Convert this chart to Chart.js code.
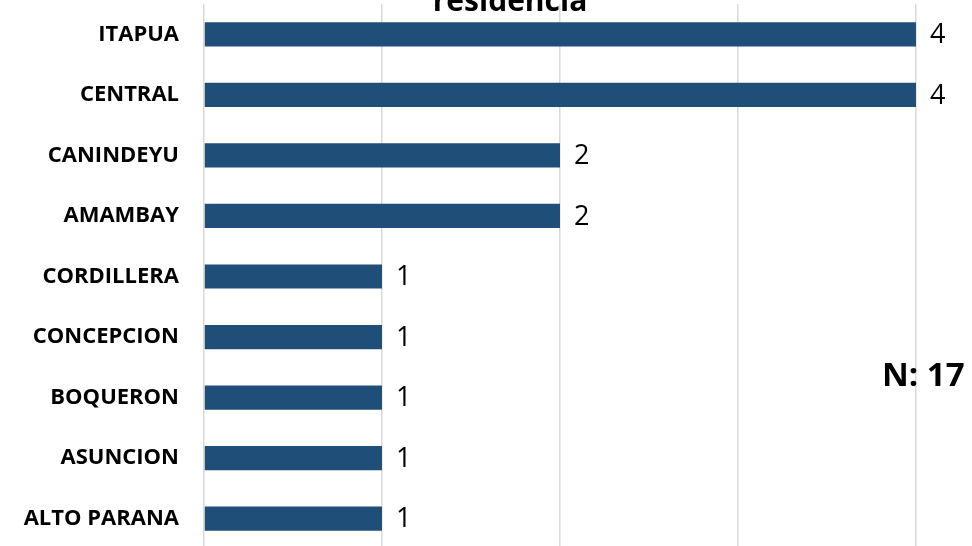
<!DOCTYPE html>
<html>
<head>
<meta charset="utf-8">
<script src="https://cdn.jsdelivr.net/npm/chart.js@4/dist/chart.umd.min.js"></script>
<style>
  html, body { margin: 0; padding: 0; background: #ffffff; overflow: hidden; }
  #wrap { position: relative; width: 972px; height: 550px; }
</style>
</head>
<body>
<div id="wrap"><canvas id="c" width="972" height="550"></canvas></div>
<script>
const categories = ["ITAPUA", "CENTRAL", "CANINDEYU", "AMAMBAY", "CORDILLERA", "CONCEPCION", "BOQUERON", "ASUNCION", "ALTO PARANA"];
const values = [4, 4, 2, 2, 1, 1, 1, 1, 1];
const titleText = "residencia";
const noteText = "N: 17";

const barLabels = {
  id: "barLabels",
  afterDatasetsDraw(chart) {
    const ctx = chart.ctx;
    const meta = chart.getDatasetMeta(0);
    ctx.save();
    ctx.font = "27px 'Open Sans'";
    ctx.fillStyle = "#000000";
    ctx.textAlign = "left";
    ctx.textBaseline = "middle";
    meta.data.forEach((el, i) => {
      ctx.fillText(String(values[i]), el.x + 14, el.y + 1);
    });
    ctx.restore();
  }
};

const extraText = {
  id: "extraText",
  afterDraw(chart) {
    const ctx = chart.ctx;
    ctx.save();
    ctx.fillStyle = "#000000";
    ctx.textBaseline = "alphabetic";
    ctx.font = "bold 30px 'Open Sans'";
    ctx.textAlign = "center";
    ctx.fillText(titleText, 510, 11);
    ctx.font = "bold 33px 'Open Sans'";
    ctx.textAlign = "left";
    ctx.fillText(noteText, 882, 386);
    ctx.restore();
  }
};

function zeroPad(scale) {
  scale.paddingTop = 0; scale.paddingBottom = 0;
  scale.paddingLeft = 0; scale.paddingRight = 0;
}

new Chart(document.getElementById("c"), {
  type: "bar",
  data: {
    labels: categories,
    datasets: [{
      data: values,
      backgroundColor: "#1F4E79",
      borderWidth: 0,
      categoryPercentage: 1.0,
      barPercentage: 0.4
    }]
  },
  options: {
    indexAxis: "y",
    responsive: false,
    animation: false,
    layout: { padding: { top: 4, bottom: 1, right: 56, left: 0 } },
    plugins: { legend: { display: false }, tooltip: { enabled: false }, title: { display: false } },
    scales: {
      x: {
        min: 0, max: 4,
        ticks: { display: false, stepSize: 1 },
        grid: { color: "#D9D9D9", lineWidth: 1.5, drawTicks: false },
        border: { display: false },
        afterFit(scale) { scale.height = 0; zeroPad(scale); }
      },
      y: {
        grid: { display: false, drawTicks: false },
        border: { display: false },
        ticks: {
          padding: 25,
          color: "#000000",
          font: { family: "'Open Sans'", weight: "bold", size: 22 }
        },
        afterFit(scale) { scale.width = 204; zeroPad(scale); }
      }
    }
  },
  plugins: [barLabels, extraText]
});
</script>
</body>
</html>
